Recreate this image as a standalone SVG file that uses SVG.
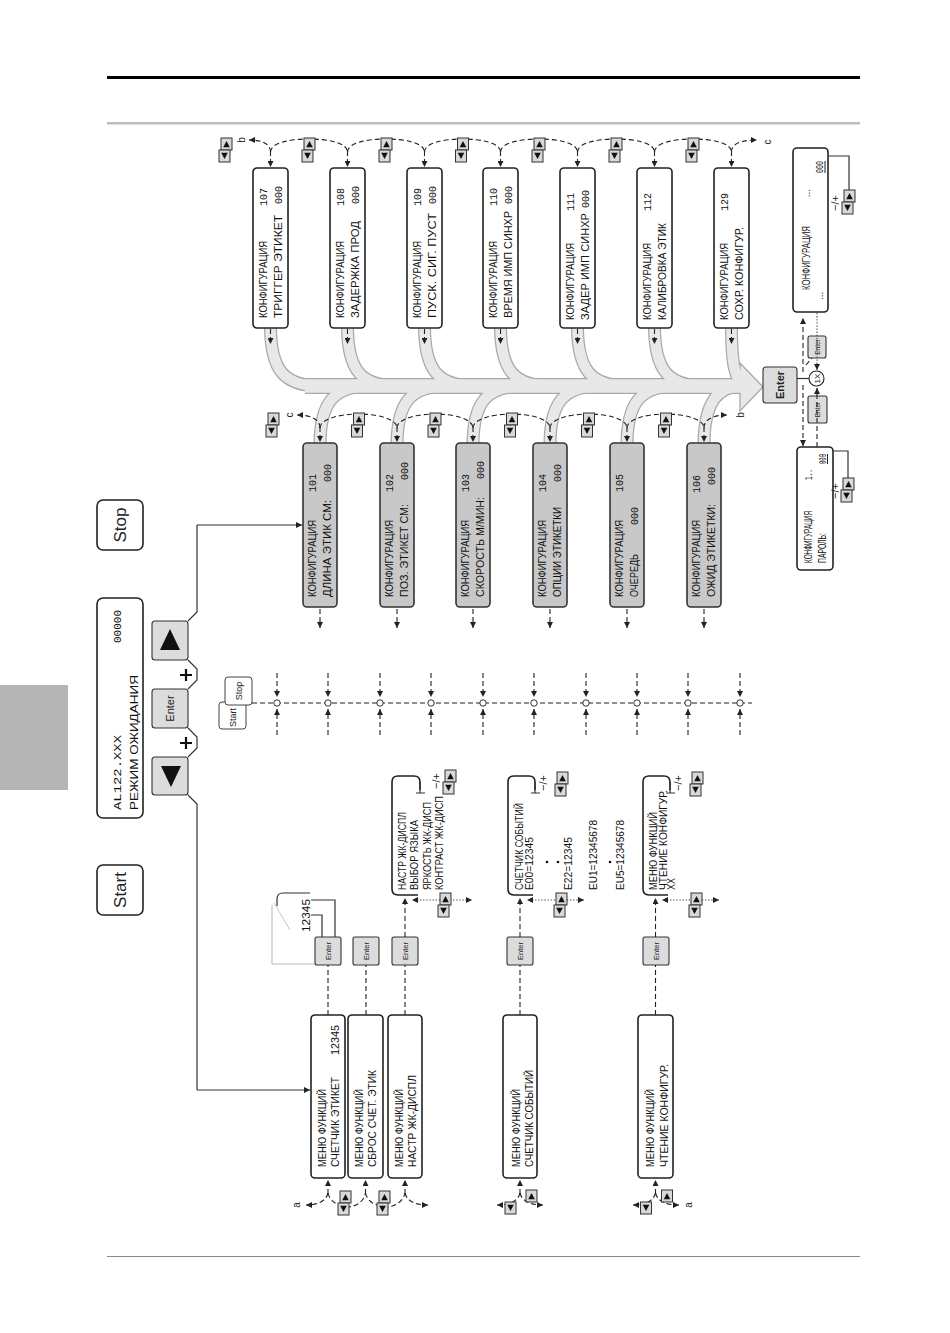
<svg xmlns="http://www.w3.org/2000/svg" width="950" height="1333" viewBox="0 0 950 1333">
<style>
.bx{fill:#fff;stroke:#222;stroke-width:1.6}
.gb{fill:#c8c8c8;stroke:#333;stroke-width:1.6}
.bt{fill:#dcdcdc;stroke:#333;stroke-width:1.1}
.t{font-family:"Liberation Sans",Arial,sans-serif;font-size:11px;fill:#111}
.s{font-family:"Liberation Sans",Arial,sans-serif;font-size:10px;fill:#111}
.m{font-family:"Liberation Mono","DejaVu Sans Mono",monospace;font-size:11px;fill:#111}
.e{font-family:"Liberation Sans",Arial,sans-serif;fill:#222;text-anchor:middle}
.ds{fill:none;stroke:#222;stroke-width:1.1;stroke-dasharray:5 3}
.dt{fill:none;stroke:#444;stroke-width:1.1;stroke-dasharray:1.3 1.8}
.ln{fill:none;stroke:#333;stroke-width:1.2}
.bo{fill:none;stroke:#a9a9a9}
.bf{fill:none;stroke:#e8e8e8}
</style>
<defs>
<marker id="a" viewBox="0 0 10 10" refX="10" refY="5" markerWidth="7" markerHeight="6" orient="auto" markerUnits="userSpaceOnUse"><path d="M0,0 L10,5 L0,10z" fill="#222"/></marker>
<g id="up"><rect x="0" y="0" width="11" height="12" fill="#d8d8d8" stroke="#333" stroke-width="1"/><path d="M2.2,9.2 L8.8,9.2 L5.5,3z" fill="#111"/></g>
<g id="dn"><rect x="0" y="0" width="11" height="12" fill="#d8d8d8" stroke="#333" stroke-width="1"/><path d="M2.2,2.8 L8.8,2.8 L5.5,9z" fill="#111"/></g>
</defs>
<rect width="950" height="1333" fill="#fff"/>
<g id="page">
<rect x="107" y="76" width="753" height="3" fill="#000"/>
<rect x="107" y="122" width="753" height="2.5" fill="#bdbdbd"/>
<rect x="107" y="1256" width="753" height="1" fill="#888"/>
<rect x="0" y="685" width="68" height="105" fill="#b5b5b5"/>
</g>

<!-- big gray fishbone arrow -->
<g id="flow-band">
<g class="bo" stroke-width="13">
<path d="M270.5 326 C270.5 370 284 386 320 386"/>
<path d="M347.5 326 C347.5 370 361 386 397 386"/>
<path d="M424.5 326 C424.5 370 438 386 474 386"/>
<path d="M500.5 326 C500.5 370 514 386 550 386"/>
<path d="M577.5 326 C577.5 370 591 386 627 386"/>
<path d="M654.5 326 C654.5 370 668 386 704 386"/>
<path d="M731.5 326 C731.5 365 735 380 745 386"/>
<path d="M320 445 C320 402 334 386 370 386"/>
<path d="M397 445 C397 402 411 386 447 386"/>
<path d="M473 445 C473 402 487 386 523 386"/>
<path d="M550 445 C550 402 564 386 600 386"/>
<path d="M627 445 C627 402 641 386 677 386"/>
<path d="M704 445 C704 402 718 386 742 386"/>
<path d="M305 386 L742 386" stroke-width="16"/>
</g>
<polygon points="740,363 763,387 740,411" fill="#e8e8e8" stroke="#a9a9a9" stroke-width="1.3"/>
<g class="bf" stroke-width="10.5">
<path d="M270.5 326 C270.5 370 284 386 320 386"/>
<path d="M347.5 326 C347.5 370 361 386 397 386"/>
<path d="M424.5 326 C424.5 370 438 386 474 386"/>
<path d="M500.5 326 C500.5 370 514 386 550 386"/>
<path d="M577.5 326 C577.5 370 591 386 627 386"/>
<path d="M654.5 326 C654.5 370 668 386 704 386"/>
<path d="M731.5 326 C731.5 365 735 380 745 386"/>
<path d="M320 445 C320 402 334 386 370 386"/>
<path d="M397 445 C397 402 411 386 447 386"/>
<path d="M473 445 C473 402 487 386 523 386"/>
<path d="M550 445 C550 402 564 386 600 386"/>
<path d="M627 445 C627 402 641 386 677 386"/>
<path d="M704 445 C704 402 718 386 742 386"/>
<path d="M305 386 L742 386" stroke-width="13.5"/>
</g>
</g>

<!-- top controls -->
<g id="btn-start"><rect x="97" y="865" width="46" height="50" rx="6" class="bx"/><text class="e" font-size="17" transform="translate(126 890) rotate(-90)">Start</text></g>
<g id="btn-stop"><rect x="97" y="500" width="46" height="50" rx="6" class="bx"/><text class="e" font-size="17" transform="translate(126 525) rotate(-90)">Stop</text></g>
<g id="display"><rect x="97" y="598" width="46" height="220" rx="6" class="bx"/>
<text class="m" font-size="16" transform="translate(121 810) rotate(-90)" textLength="75" lengthAdjust="spacingAndGlyphs">AL122.XXX</text>
<text class="m" font-size="16" text-anchor="end" transform="translate(121 610) rotate(-90)" textLength="33" lengthAdjust="spacingAndGlyphs">00000</text>
<text class="t" font-size="14" transform="translate(138 810) rotate(-90)" textLength="135" lengthAdjust="spacingAndGlyphs">РЕЖИМ ОЖИДАНИЯ</text></g>
<g id="btn-up"><rect x="152" y="621" width="36" height="39" rx="3" class="bt"/><polygon points="160,650 180,650 170,629" fill="#111"/></g>
<g id="btn-enter"><rect x="152" y="689" width="36" height="39" rx="3" class="bt"/><text class="e" font-size="11" transform="translate(174 708.5) rotate(-90)">Enter</text></g>
<g id="btn-down"><rect x="152" y="757" width="36" height="38" rx="3" class="bt"/><polygon points="161,766 181,766 171,787" fill="#111"/></g>
<g id="plus" stroke="#111" stroke-width="2.2"><path d="M180 675 H192 M186 669 V681"/><path d="M180 743 H192 M186 737 V749"/></g>

<g id="startstop-icon">
<rect x="219" y="702" width="27" height="27" rx="3" fill="#fff" stroke="#444" stroke-width="1"/>
<text class="e" font-size="9" transform="translate(236 727) rotate(-90)" style="text-anchor:start">Start</text>
<rect x="225" y="677" width="27" height="28" rx="3" fill="#fff" stroke="#444" stroke-width="1"/>
<text class="e" font-size="9" transform="translate(242 691) rotate(-90)">Stop</text>
</g>

<!-- config boxes top row -->
<g id="cfg107"><rect x="253" y="168" width="35" height="160" rx="4" class="bx"/>
<text class="t" transform="translate(267 318) rotate(-90)" textLength="77" lengthAdjust="spacingAndGlyphs">КОНФИГУРАЦИЯ</text>
<text class="m" text-anchor="end" transform="translate(267 188) rotate(-90)" textLength="18" lengthAdjust="spacingAndGlyphs">107</text>
<text class="t" transform="translate(282 318) rotate(-90)" textLength="103" lengthAdjust="spacingAndGlyphs">ТРИГГЕР ЭТИКЕТ</text>
<text class="m" text-anchor="end" transform="translate(282 186) rotate(-90)" textLength="18" lengthAdjust="spacingAndGlyphs">000</text></g>
<g id="cfg108"><rect x="330" y="168" width="35" height="160" rx="4" class="bx"/>
<text class="t" transform="translate(344 318) rotate(-90)" textLength="77" lengthAdjust="spacingAndGlyphs">КОНФИГУРАЦИЯ</text>
<text class="m" text-anchor="end" transform="translate(344 188) rotate(-90)" textLength="18" lengthAdjust="spacingAndGlyphs">108</text>
<text class="t" transform="translate(359 318) rotate(-90)" textLength="97" lengthAdjust="spacingAndGlyphs">ЗАДЕРЖКА ПРОД</text>
<text class="m" text-anchor="end" transform="translate(359 186) rotate(-90)" textLength="18" lengthAdjust="spacingAndGlyphs">000</text></g>
<g id="cfg109"><rect x="407" y="168" width="35" height="160" rx="4" class="bx"/>
<text class="t" transform="translate(421 318) rotate(-90)" textLength="77" lengthAdjust="spacingAndGlyphs">КОНФИГУРАЦИЯ</text>
<text class="m" text-anchor="end" transform="translate(421 188) rotate(-90)" textLength="18" lengthAdjust="spacingAndGlyphs">109</text>
<text class="t" transform="translate(436 318) rotate(-90)" textLength="105" lengthAdjust="spacingAndGlyphs">ПУСК. СИГ. ПУСТ</text>
<text class="m" text-anchor="end" transform="translate(436 186) rotate(-90)" textLength="18" lengthAdjust="spacingAndGlyphs">000</text></g>
<g id="cfg110"><rect x="483" y="168" width="35" height="160" rx="4" class="bx"/>
<text class="t" transform="translate(497 318) rotate(-90)" textLength="77" lengthAdjust="spacingAndGlyphs">КОНФИГУРАЦИЯ</text>
<text class="m" text-anchor="end" transform="translate(497 188) rotate(-90)" textLength="18" lengthAdjust="spacingAndGlyphs">110</text>
<text class="t" transform="translate(512 318) rotate(-90)" textLength="107" lengthAdjust="spacingAndGlyphs">ВРЕМЯ ИМП СИНХР</text>
<text class="m" text-anchor="end" transform="translate(512 186) rotate(-90)" textLength="18" lengthAdjust="spacingAndGlyphs">000</text></g>
<g id="cfg111"><rect x="560" y="168" width="35" height="160" rx="4" class="bx"/>
<text class="t" transform="translate(574 320) rotate(-90)" textLength="77" lengthAdjust="spacingAndGlyphs">КОНФИГУРАЦИЯ</text>
<text class="m" text-anchor="end" transform="translate(574 193) rotate(-90)" textLength="18" lengthAdjust="spacingAndGlyphs">111</text>
<text class="t" transform="translate(589 320) rotate(-90)" textLength="107" lengthAdjust="spacingAndGlyphs">ЗАДЕР ИМП СИНХР</text>
<text class="m" text-anchor="end" transform="translate(589 190) rotate(-90)" textLength="18" lengthAdjust="spacingAndGlyphs">000</text></g>
<g id="cfg112"><rect x="637" y="168" width="35" height="160" rx="4" class="bx"/>
<text class="t" transform="translate(651 320) rotate(-90)" textLength="77" lengthAdjust="spacingAndGlyphs">КОНФИГУРАЦИЯ</text>
<text class="m" text-anchor="end" transform="translate(651 193) rotate(-90)" textLength="18" lengthAdjust="spacingAndGlyphs">112</text>
<text class="t" transform="translate(666 320) rotate(-90)" textLength="97" lengthAdjust="spacingAndGlyphs">КАЛИБРОВКА ЭТИК</text></g>
<g id="cfg129"><rect x="714" y="168" width="35" height="160" rx="4" class="bx"/>
<text class="t" transform="translate(728 320) rotate(-90)" textLength="77" lengthAdjust="spacingAndGlyphs">КОНФИГУРАЦИЯ</text>
<text class="m" text-anchor="end" transform="translate(728 193) rotate(-90)" textLength="18" lengthAdjust="spacingAndGlyphs">129</text>
<text class="t" transform="translate(743 320) rotate(-90)" textLength="93" lengthAdjust="spacingAndGlyphs">СОХР. КОНФИГУР.</text></g>

<!-- config boxes gray row -->
<g id="cfg101"><rect x="303" y="443" width="34" height="164" rx="4" class="gb"/>
<text class="t" transform="translate(316 597) rotate(-90)" textLength="77" lengthAdjust="spacingAndGlyphs">КОНФИГУРАЦИЯ</text>
<text class="m" text-anchor="end" transform="translate(316 474) rotate(-90)" textLength="18" lengthAdjust="spacingAndGlyphs">101</text>
<text class="t" transform="translate(331 597) rotate(-90)" textLength="97" lengthAdjust="spacingAndGlyphs">ДЛИНА ЭТИК СМ:</text>
<text class="m" text-anchor="end" transform="translate(331 464) rotate(-90)" textLength="18" lengthAdjust="spacingAndGlyphs">000</text></g>
<g id="cfg102"><rect x="380" y="443" width="34" height="164" rx="4" class="gb"/>
<text class="t" transform="translate(393 597) rotate(-90)" textLength="77" lengthAdjust="spacingAndGlyphs">КОНФИГУРАЦИЯ</text>
<text class="m" text-anchor="end" transform="translate(393 474) rotate(-90)" textLength="18" lengthAdjust="spacingAndGlyphs">102</text>
<text class="t" transform="translate(408 597) rotate(-90)" textLength="93" lengthAdjust="spacingAndGlyphs">ПОЗ. ЭТИКЕТ СМ:</text>
<text class="m" text-anchor="end" transform="translate(408 462) rotate(-90)" textLength="18" lengthAdjust="spacingAndGlyphs">000</text></g>
<g id="cfg103"><rect x="456" y="443" width="34" height="164" rx="4" class="gb"/>
<text class="t" transform="translate(469 597) rotate(-90)" textLength="77" lengthAdjust="spacingAndGlyphs">КОНФИГУРАЦИЯ</text>
<text class="m" text-anchor="end" transform="translate(469 474) rotate(-90)" textLength="18" lengthAdjust="spacingAndGlyphs">103</text>
<text class="t" transform="translate(484 597) rotate(-90)" textLength="100" lengthAdjust="spacingAndGlyphs">СКОРОСТЬ М/МИН:</text>
<text class="m" text-anchor="end" transform="translate(484 461) rotate(-90)" textLength="18" lengthAdjust="spacingAndGlyphs">000</text></g>
<g id="cfg104"><rect x="533" y="443" width="34" height="164" rx="4" class="gb"/>
<text class="t" transform="translate(546 597) rotate(-90)" textLength="77" lengthAdjust="spacingAndGlyphs">КОНФИГУРАЦИЯ</text>
<text class="m" text-anchor="end" transform="translate(546 474) rotate(-90)" textLength="18" lengthAdjust="spacingAndGlyphs">104</text>
<text class="t" transform="translate(561 597) rotate(-90)" textLength="90" lengthAdjust="spacingAndGlyphs">ОПЦИИ ЭТИКЕТКИ</text>
<text class="m" text-anchor="end" transform="translate(561 464) rotate(-90)" textLength="18" lengthAdjust="spacingAndGlyphs">000</text></g>
<g id="cfg105"><rect x="610" y="443" width="34" height="164" rx="4" class="gb"/>
<text class="t" transform="translate(623 597) rotate(-90)" textLength="77" lengthAdjust="spacingAndGlyphs">КОНФИГУРАЦИЯ</text>
<text class="m" text-anchor="end" transform="translate(623 474) rotate(-90)" textLength="18" lengthAdjust="spacingAndGlyphs">105</text>
<text class="t" transform="translate(638 597) rotate(-90)" textLength="43" lengthAdjust="spacingAndGlyphs">ОЧЕРЕДЬ</text>
<text class="m" text-anchor="end" transform="translate(638 507) rotate(-90)" textLength="18" lengthAdjust="spacingAndGlyphs">000</text></g>
<g id="cfg106"><rect x="687" y="443" width="34" height="164" rx="4" class="gb"/>
<text class="t" transform="translate(700 597) rotate(-90)" textLength="77" lengthAdjust="spacingAndGlyphs">КОНФИГУРАЦИЯ</text>
<text class="m" text-anchor="end" transform="translate(700 475) rotate(-90)" textLength="18" lengthAdjust="spacingAndGlyphs">106</text>
<text class="t" transform="translate(715 597) rotate(-90)" textLength="93" lengthAdjust="spacingAndGlyphs">ОЖИД ЭТИКЕТКИ:</text>
<text class="m" text-anchor="end" transform="translate(715 467) rotate(-90)" textLength="18" lengthAdjust="spacingAndGlyphs">000</text></g>

<!-- function menu boxes -->
<g id="menu-counter"><rect x="311" y="1015" width="34" height="163" rx="4" class="bx"/>
<text class="t" transform="translate(326 1167) rotate(-90)" textLength="78" lengthAdjust="spacingAndGlyphs">МЕНЮ ФУНКЦИЙ</text>
<text class="t" transform="translate(339 1167) rotate(-90)" textLength="90" lengthAdjust="spacingAndGlyphs">СЧЕТЧИК ЭТИКЕТ</text>
<text class="t" text-anchor="end" transform="translate(339 1025) rotate(-90)" textLength="30" lengthAdjust="spacingAndGlyphs">12345</text></g>
<g id="menu-reset"><rect x="348" y="1015" width="35" height="163" rx="4" class="bx"/>
<text class="t" transform="translate(363 1167) rotate(-90)" textLength="78" lengthAdjust="spacingAndGlyphs">МЕНЮ ФУНКЦИЙ</text>
<text class="t" transform="translate(376 1167) rotate(-90)" textLength="97" lengthAdjust="spacingAndGlyphs">СБРОС СЧЕТ. ЭТИК</text></g>
<g id="menu-lcd"><rect x="388" y="1015" width="34" height="163" rx="4" class="bx"/>
<text class="t" transform="translate(403 1167) rotate(-90)" textLength="78" lengthAdjust="spacingAndGlyphs">МЕНЮ ФУНКЦИЙ</text>
<text class="t" transform="translate(416 1167) rotate(-90)" textLength="92" lengthAdjust="spacingAndGlyphs">НАСТР ЖК-ДИСПЛ</text></g>
<g id="menu-events"><rect x="503" y="1015" width="34" height="163" rx="4" class="bx"/>
<text class="t" transform="translate(520 1167) rotate(-90)" textLength="78" lengthAdjust="spacingAndGlyphs">МЕНЮ ФУНКЦИЙ</text>
<text class="t" transform="translate(533 1167) rotate(-90)" textLength="97" lengthAdjust="spacingAndGlyphs">СЧЕТЧИК СОБЫТИЙ</text></g>
<g id="menu-readcfg"><rect x="638" y="1015" width="35" height="163" rx="4" class="bx"/>
<text class="t" transform="translate(654 1167) rotate(-90)" textLength="78" lengthAdjust="spacingAndGlyphs">МЕНЮ ФУНКЦИЙ</text>
<text class="t" transform="translate(668 1167) rotate(-90)" textLength="103" lengthAdjust="spacingAndGlyphs">ЧТЕНИЕ КОНФИГУР.</text></g>

<!-- Enter keys for menus -->
<g id="enter-1"><rect x="315" y="937" width="26" height="28" rx="2" class="bt"/><text class="e" font-size="7.5" transform="translate(330.5 951) rotate(-90)">Enter</text></g>
<g id="enter-2"><rect x="353" y="937" width="26" height="28" rx="2" class="bt"/><text class="e" font-size="7.5" transform="translate(368.5 951) rotate(-90)">Enter</text></g>
<g id="enter-3"><rect x="392" y="937" width="26" height="28" rx="2" class="bt"/><text class="e" font-size="7.5" transform="translate(407.5 951) rotate(-90)">Enter</text></g>
<g id="enter-4"><rect x="507" y="937" width="26" height="28" rx="2" class="bt"/><text class="e" font-size="7.5" transform="translate(522.5 951) rotate(-90)">Enter</text></g>
<g id="enter-5"><rect x="643" y="937" width="26" height="28" rx="2" class="bt"/><text class="e" font-size="7.5" transform="translate(658.5 951) rotate(-90)">Enter</text></g>

<!-- 12345 popup -->
<g id="counter-popup">
<path d="M272 905 L272 964 L315 964" fill="none" stroke="#b5b5b5" stroke-width="1"/>
<path d="M274 903 L290 930" fill="none" stroke="#c5c5c5" stroke-width="1"/>
<path d="M310 893 L283 893 Q277 893 277 899 L277 906" class="ln"/>
<text class="t" font-size="12" transform="translate(309.5 932) rotate(-90)" textLength="33" lengthAdjust="spacingAndGlyphs">12345</text>
<path d="M335 937 L335 900 L311 900 M322 937 L322 915 L311 915" class="ln"/>
</g>

<!-- submenus -->
<g id="sub-lcd">
<path d="M420 790 L420 782 Q420 776 414 776 L398 776 Q392 776 392 782 L392 889 Q392 895 398 895 L418 895" class="bx" style="fill:none"/>
<path d="M420 782 L420 793 M416 793 H425" class="ln"/>
<text class="s" transform="translate(406 890) rotate(-90)" textLength="78" lengthAdjust="spacingAndGlyphs">НАСТР ЖК-ДИСПЛ</text>
<text class="s" transform="translate(418 890) rotate(-90)" textLength="70" lengthAdjust="spacingAndGlyphs">ВЫБОР ЯЗЫКА</text>
<text class="s" transform="translate(431 890) rotate(-90)" textLength="88" lengthAdjust="spacingAndGlyphs">ЯРКОСТЬ ЖК-ДИСП</text>
<text class="s" transform="translate(443 890) rotate(-90)" textLength="94" lengthAdjust="spacingAndGlyphs">КОНТРАСТ ЖК-ДИСП</text>
</g>
<g id="sub-events">
<path d="M535 790 L535 782 Q535 776 529 776 L514 776 Q508 776 508 782 L508 889 Q508 895 514 895 L533 895" class="bx" style="fill:none"/>
<path d="M535 782 L535 793 M531 793 H540" class="ln"/>
<text class="s" transform="translate(522.5 890) rotate(-90)" textLength="87" lengthAdjust="spacingAndGlyphs">СЧЕТЧИК СОБЫТИЙ</text>
<text class="s" transform="translate(532.5 890) rotate(-90)" textLength="53" lengthAdjust="spacingAndGlyphs">E00=12345</text>
<circle cx="547" cy="862" r="1.3" fill="#111"/><circle cx="558" cy="862" r="1.3" fill="#111"/>
<text class="s" transform="translate(571.5 890) rotate(-90)" textLength="53" lengthAdjust="spacingAndGlyphs">E22=12345</text>
<text class="s" transform="translate(596.5 890) rotate(-90)" textLength="70" lengthAdjust="spacingAndGlyphs">EU1=12345678</text>
<circle cx="610" cy="862" r="1.3" fill="#111"/>
<text class="s" transform="translate(623.5 890) rotate(-90)" textLength="70" lengthAdjust="spacingAndGlyphs">EU5=12345678</text>
</g>
<g id="sub-readcfg">
<path d="M670 790 L670 782 Q670 776 664 776 L649 776 Q643 776 643 782 L643 889 Q643 895 649 895 L668 895" class="bx" style="fill:none"/>
<path d="M670 782 L670 793 M666 793 H675" class="ln"/>
<text class="s" transform="translate(656.5 890) rotate(-90)" textLength="78" lengthAdjust="spacingAndGlyphs">МЕНЮ ФУНКЦИЙ</text>
<text class="s" transform="translate(666.5 890) rotate(-90)" textLength="100" lengthAdjust="spacingAndGlyphs">ЧТЕНИЕ КОНФИГУР.</text>
<text class="s" transform="translate(675 890) rotate(-90)" textLength="12" lengthAdjust="spacingAndGlyphs">XX</text>
</g>

<!-- right side: password / value editing -->
<g id="enter-main"><rect x="763" y="367" width="34" height="36" rx="3" class="bt"/><text class="e" font-size="11" font-weight="bold" transform="translate(784 385) rotate(-90)">Enter</text></g>
<g id="once"><circle cx="816.5" cy="378.5" r="7.5" fill="#fff" stroke="#222" stroke-width="1.1"/><text class="e" font-size="8" transform="translate(819.5 378.5) rotate(-90)">1X</text></g>
<g id="cfg-value"><rect x="793" y="148" width="35" height="164" rx="4" class="bx"/>
<text class="s" transform="translate(810 290) rotate(-90)" textLength="64" lengthAdjust="spacingAndGlyphs">КОНФИГУРАЦИЯ</text>
<text class="s" font-size="9" text-anchor="end" transform="translate(810 189) rotate(-90)">...</text>
<text class="s" font-size="9" transform="translate(823 300) rotate(-90)">...</text>
<text class="m" font-size="10" text-anchor="end" transform="translate(823 161) rotate(-90)" textLength="12" lengthAdjust="spacingAndGlyphs">000</text>
<line x1="825" y1="161" x2="825" y2="173" stroke="#222" stroke-width="1"/></g>
<g id="cfg-password"><rect x="797" y="447" width="36" height="123" rx="4" class="bx"/>
<text class="s" transform="translate(811.5 563) rotate(-90)" textLength="52" lengthAdjust="spacingAndGlyphs">КОНФИГУРАЦИЯ</text>
<text class="m" font-size="10" text-anchor="end" transform="translate(811.5 469) rotate(-90)" textLength="11" lengthAdjust="spacingAndGlyphs">1..</text>
<text class="s" transform="translate(825.5 563) rotate(-90)" textLength="30" lengthAdjust="spacingAndGlyphs">ПАРОЛЬ:</text>
<text class="m" font-size="10" text-anchor="end" transform="translate(825.5 454) rotate(-90)" textLength="10" lengthAdjust="spacingAndGlyphs">000</text>
<line x1="827.5" y1="454" x2="827.5" y2="464" stroke="#222" stroke-width="1"/></g>
<g id="enter-small-a"><rect x="808" y="336" width="18" height="22" rx="2" class="bt"/><text class="e" font-size="6.5" transform="translate(819.5 347) rotate(-90)">Enter</text></g>
<g id="enter-small-b"><rect x="808" y="396" width="19" height="27" rx="2" class="bt"/><text class="e" font-size="6.5" transform="translate(820 409.5) rotate(-90)">Enter</text></g>

<!-- connectors -->
<g id="connectors">
<path class="ln" d="M197 525 L197 612 L188 621 M188 660 L197 669 L197 680 L188 689 M188 728 L197 737 L197 748 L188 757 M188 795 L197 804 L197 1090"/>
<line class="ln" x1="197" y1="525" x2="302" y2="525" marker-end="url(#a)"/>
<line class="ln" x1="197" y1="1090" x2="310" y2="1090" marker-end="url(#a)"/>

<line class="ds" x1="252" y1="703" x2="752" y2="703"/>
<g class="ds">
<line x1="277" y1="673" x2="277" y2="697" marker-end="url(#a)"/><line x1="277" y1="735" x2="277" y2="709" marker-end="url(#a)"/>
<line x1="328" y1="673" x2="328" y2="697" marker-end="url(#a)"/><line x1="328" y1="735" x2="328" y2="709" marker-end="url(#a)"/>
<line x1="380" y1="673" x2="380" y2="697" marker-end="url(#a)"/><line x1="380" y1="735" x2="380" y2="709" marker-end="url(#a)"/>
<line x1="431" y1="673" x2="431" y2="697" marker-end="url(#a)"/><line x1="431" y1="735" x2="431" y2="709" marker-end="url(#a)"/>
<line x1="483" y1="673" x2="483" y2="697" marker-end="url(#a)"/><line x1="483" y1="735" x2="483" y2="709" marker-end="url(#a)"/>
<line x1="534" y1="673" x2="534" y2="697" marker-end="url(#a)"/><line x1="534" y1="735" x2="534" y2="709" marker-end="url(#a)"/>
<line x1="586" y1="673" x2="586" y2="697" marker-end="url(#a)"/><line x1="586" y1="735" x2="586" y2="709" marker-end="url(#a)"/>
<line x1="637" y1="673" x2="637" y2="697" marker-end="url(#a)"/><line x1="637" y1="735" x2="637" y2="709" marker-end="url(#a)"/>
<line x1="688" y1="673" x2="688" y2="697" marker-end="url(#a)"/><line x1="688" y1="735" x2="688" y2="709" marker-end="url(#a)"/>
<line x1="740" y1="673" x2="740" y2="697" marker-end="url(#a)"/><line x1="740" y1="735" x2="740" y2="709" marker-end="url(#a)"/>
</g>
<g fill="#fff" stroke="#333" stroke-width="1">
<circle cx="277" cy="703" r="3.2"/><circle cx="328" cy="703" r="3.2"/><circle cx="380" cy="703" r="3.2"/><circle cx="431" cy="703" r="3.2"/><circle cx="483" cy="703" r="3.2"/><circle cx="534" cy="703" r="3.2"/><circle cx="586" cy="703" r="3.2"/><circle cx="637" cy="703" r="3.2"/><circle cx="688" cy="703" r="3.2"/><circle cx="740" cy="703" r="3.2"/>
</g>

<g class="ds">
<path d="M270.5 152 C270.5 144 262 140 249 140" marker-end="url(#a)"/>
<path d="M270.5 152 C270.5 143 290 139 309 139 C328 139 347.5 143 347.5 152"/>
<path d="M347.5 152 C347.5 143 367 139 386 139 C405 139 424.5 143 424.5 152"/>
<path d="M424.5 152 C424.5 143 443.5 139 462.5 139 C481.5 139 500.5 143 500.5 152"/>
<path d="M500.5 152 C500.5 143 520 139 539 139 C558 139 577.5 143 577.5 152"/>
<path d="M577.5 152 C577.5 143 597 139 616 139 C635 139 654.5 143 654.5 152"/>
<path d="M654.5 152 C654.5 143 674 139 693 139 C712 139 731.5 143 731.5 152"/>
<path d="M731.5 152 C731.5 144 740 140 757 140" marker-end="url(#a)"/>
<line x1="270.5" y1="151" x2="270.5" y2="167" marker-end="url(#a)"/>
<line x1="347.5" y1="151" x2="347.5" y2="167" marker-end="url(#a)"/>
<line x1="424.5" y1="151" x2="424.5" y2="167" marker-end="url(#a)"/>
<line x1="500.5" y1="151" x2="500.5" y2="167" marker-end="url(#a)"/>
<line x1="577.5" y1="151" x2="577.5" y2="167" marker-end="url(#a)"/>
<line x1="654.5" y1="151" x2="654.5" y2="167" marker-end="url(#a)"/>
<line x1="731.5" y1="151" x2="731.5" y2="167" marker-end="url(#a)"/>
<line x1="270.5" y1="329" x2="270.5" y2="344" marker-end="url(#a)"/>
<line x1="347.5" y1="329" x2="347.5" y2="344" marker-end="url(#a)"/>
<line x1="424.5" y1="329" x2="424.5" y2="344" marker-end="url(#a)"/>
<line x1="500.5" y1="329" x2="500.5" y2="344" marker-end="url(#a)"/>
<line x1="577.5" y1="329" x2="577.5" y2="344" marker-end="url(#a)"/>
<line x1="654.5" y1="329" x2="654.5" y2="344" marker-end="url(#a)"/>
<line x1="731.5" y1="329" x2="731.5" y2="344" marker-end="url(#a)"/>
</g>
<g class="ds">
<path d="M320 428 C320 420 312 415 297 415" marker-end="url(#a)"/>
<path d="M320 428 C320 419 339.5 414 358.5 414 C377.5 414 397 419 397 428"/>
<path d="M397 428 C397 419 416 414 435 414 C454 414 473 419 473 428"/>
<path d="M473 428 C473 419 492.5 414 511.5 414 C530.5 414 550 419 550 428"/>
<path d="M550 428 C550 419 569.5 414 588.5 414 C607.5 414 627 419 627 428"/>
<path d="M627 428 C627 419 646.5 414 665.5 414 C684.5 414 704 419 704 428"/>
<path d="M704 428 C704 420 712 415 727 415" marker-end="url(#a)"/>
<line x1="320" y1="427" x2="320" y2="442" marker-end="url(#a)"/>
<line x1="397" y1="427" x2="397" y2="442" marker-end="url(#a)"/>
<line x1="473" y1="427" x2="473" y2="442" marker-end="url(#a)"/>
<line x1="550" y1="427" x2="550" y2="442" marker-end="url(#a)"/>
<line x1="627" y1="427" x2="627" y2="442" marker-end="url(#a)"/>
<line x1="704" y1="427" x2="704" y2="442" marker-end="url(#a)"/>
<line x1="320" y1="609" x2="320" y2="628" marker-end="url(#a)"/>
<line x1="397" y1="609" x2="397" y2="628" marker-end="url(#a)"/>
<line x1="473" y1="609" x2="473" y2="628" marker-end="url(#a)"/>
<line x1="550" y1="609" x2="550" y2="628" marker-end="url(#a)"/>
<line x1="627" y1="609" x2="627" y2="628" marker-end="url(#a)"/>
<line x1="704" y1="609" x2="704" y2="628" marker-end="url(#a)"/>
</g>

<g class="ds">
<line x1="328" y1="1015" x2="328" y2="965"/>
<line x1="366" y1="1015" x2="366" y2="965"/>
<line x1="405" y1="1015" x2="405" y2="965"/>
<line x1="520" y1="1015" x2="520" y2="965"/>
<line x1="655.5" y1="1015" x2="655.5" y2="965"/>
<line x1="405" y1="937" x2="405" y2="898" marker-end="url(#a)"/>
<line x1="520" y1="937" x2="520" y2="898" marker-end="url(#a)"/>
<line x1="655.5" y1="937" x2="655.5" y2="898" marker-end="url(#a)"/>
<line x1="328" y1="1194" x2="328" y2="1180" marker-end="url(#a)"/>
<line x1="365.5" y1="1194" x2="365.5" y2="1180" marker-end="url(#a)"/>
<line x1="405" y1="1194" x2="405" y2="1180" marker-end="url(#a)"/>
<line x1="520" y1="1194" x2="520" y2="1180" marker-end="url(#a)"/>
<line x1="655.5" y1="1194" x2="655.5" y2="1180" marker-end="url(#a)"/>
<path d="M328 1193 C326 1201 318 1205 306 1205" marker-end="url(#a)"/>
<path d="M328 1193 C330 1202 340 1207 347 1207 C355 1207 364 1202 365.5 1193"/>
<path d="M365.5 1193 C367 1202 378 1207 386 1207 C394 1207 403 1202 405 1193"/>
<path d="M405 1193 C407 1201 415 1205 428 1205" marker-end="url(#a)"/>
<path d="M520 1193 C518 1201 510 1205 497 1205" marker-end="url(#a)"/>
<path d="M520 1193 C522 1201 530 1205 543 1205" marker-end="url(#a)"/>
<path d="M655.5 1193 C653.5 1201 645.5 1205 633 1205" marker-end="url(#a)"/>
<path d="M655.5 1193 C657.5 1201 665.5 1205 679 1205" marker-end="url(#a)"/>
</g>
<g class="dt">
<line x1="440" y1="900" x2="412" y2="900" marker-end="url(#a)"/>
<line x1="450" y1="900" x2="472" y2="900" marker-end="url(#a)"/>
<line x1="555" y1="900" x2="527" y2="900" marker-end="url(#a)"/>
<line x1="567" y1="900" x2="584" y2="900" marker-end="url(#a)"/>
<line x1="690" y1="900" x2="662" y2="900" marker-end="url(#a)"/>
<line x1="702" y1="900" x2="719" y2="900" marker-end="url(#a)"/>
</g>

<line class="ln" x1="797" y1="378.5" x2="809" y2="378.5"/>
<g class="ds">
<line x1="803" y1="372" x2="803" y2="318" marker-end="url(#a)"/>
<line x1="803" y1="385" x2="803" y2="446" marker-end="url(#a)"/>
<line x1="806" y1="365" x2="812" y2="358"/>
<line x1="817" y1="447" x2="817" y2="388" marker-end="url(#a)"/>
</g>
<line class="dt" x1="817" y1="313" x2="817" y2="370" marker-end="url(#a)"/>
<path class="ln" d="M828 156 H849 V190"/>
<path class="ln" d="M833 451 H848 V478"/>
</g>

<!-- up/down key icons -->
<g id="keys">
<use href="#up" x="221" y="138"/><use href="#dn" x="219" y="150"/>
<use href="#up" x="304" y="138"/><use href="#dn" x="302" y="150"/>
<use href="#up" x="381" y="138"/><use href="#dn" x="379" y="150"/>
<use href="#up" x="457.5" y="138"/><use href="#dn" x="455.5" y="150"/>
<use href="#up" x="534" y="138"/><use href="#dn" x="532" y="150"/>
<use href="#up" x="611" y="138"/><use href="#dn" x="609" y="150"/>
<use href="#up" x="688" y="138"/><use href="#dn" x="686" y="150"/>

<use href="#up" x="268" y="413"/><use href="#dn" x="266" y="425"/>
<use href="#up" x="353.5" y="413"/><use href="#dn" x="351.5" y="425"/>
<use href="#up" x="430" y="413"/><use href="#dn" x="428" y="425"/>
<use href="#up" x="506.5" y="413"/><use href="#dn" x="504.5" y="425"/>
<use href="#up" x="583.5" y="413"/><use href="#dn" x="581.5" y="425"/>
<use href="#up" x="660.5" y="413"/><use href="#dn" x="658.5" y="425"/>

<use href="#up" x="340" y="1191"/><use href="#dn" x="338" y="1203"/>
<use href="#up" x="379" y="1191"/><use href="#dn" x="377" y="1203"/>
<use href="#dn" x="505" y="1202"/><use href="#up" x="526" y="1190"/>
<use href="#dn" x="640.5" y="1202"/><use href="#up" x="661.5" y="1190"/>

<use href="#up" x="445" y="770"/><use href="#dn" x="443" y="782"/>
<use href="#up" x="557" y="772"/><use href="#dn" x="555" y="784"/>
<use href="#up" x="692" y="772"/><use href="#dn" x="690" y="784"/>

<use href="#up" x="440" y="893"/><use href="#dn" x="438" y="905"/>
<use href="#up" x="556" y="893"/><use href="#dn" x="554" y="905"/>
<use href="#up" x="691" y="893"/><use href="#dn" x="689" y="905"/>

<use href="#up" x="844" y="190"/><use href="#dn" x="842" y="202"/>
<use href="#up" x="843" y="478"/><use href="#dn" x="841" y="490"/>
</g>

<!-- small labels -->
<g id="labels" class="e" font-size="11">
<text font-size="10" transform="translate(244.5 140) rotate(-90)">b</text>
<text font-size="10" transform="translate(771 142) rotate(-90)">c</text>
<text font-size="10" transform="translate(292.5 415) rotate(-90)">c</text>
<text font-size="10" transform="translate(743.5 415) rotate(-90)">b</text>
<text font-size="10" transform="translate(299.5 1205) rotate(-90)">a</text>
<text font-size="10" transform="translate(691.5 1205) rotate(-90)">a</text>
<text transform="translate(440 781) rotate(-90)">−/+</text>
<text transform="translate(547 783) rotate(-90)">−/+</text>
<text transform="translate(682 783) rotate(-90)">−/+</text>
<text transform="translate(839 203) rotate(-90)">−/+</text>
<text transform="translate(839 491) rotate(-90)">−/+</text>
</g>
</svg>
